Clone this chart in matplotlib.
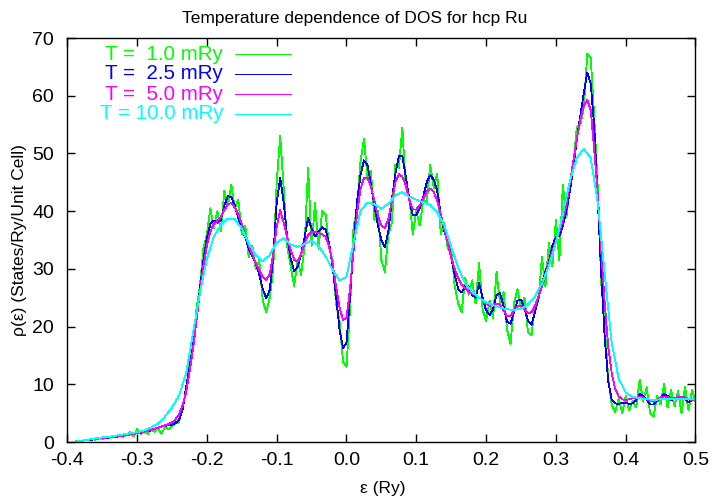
import numpy as np
import matplotlib
matplotlib.use("Agg")
import matplotlib.pyplot as plt

plt.rcParams['font.family'] = ['Liberation Sans', 'DejaVu Sans']
plt.rcParams['font.size'] = 12.5
plt.rcParams['axes.unicode_minus'] = False

# energy grid (Ry): fine grid for T=1.0/2.5/5.0, coarse for T=10.0
e_fine = np.linspace(-0.39, 0.5, 179)
e_coarse = np.linspace(-0.39, 0.5, 90)

dos_1_0 = [
    0.0, 0.2, 0.1, 0.4, 0.3, 0.6, 0.4, 0.7, 0.5, 0.9,
    0.6, 1.0, 0.8, 1.3, 0.9, 1.2, 1.7, 1.0, 2.2, 1.4,
    1.9, 1.4, 2.2, 1.8, 2.5, 1.4, 2.6, 2.2, 2.8, 3.2,
    3.4, 6.0, 8.5, 14.0, 16.0, 23.0, 27.0, 33.5, 36.0, 40.5,
    37.0, 40.0, 36.5, 43.5, 41.0, 44.5, 40.5, 42.0, 36.0, 37.5,
    32.0, 34.0, 30.0, 31.5, 24.5, 22.5, 25.0, 30.0, 45.0, 53.0,
    44.0, 34.0, 30.5, 27.0, 31.5, 29.0, 34.0, 47.5, 34.0, 41.5,
    33.5, 40.0, 39.5, 34.0, 31.5, 24.0, 21.0, 14.0, 13.0, 23.0,
    37.0, 40.5, 48.5, 52.5, 46.0, 47.0, 38.5, 40.0, 31.5, 29.5,
    36.0, 38.0, 48.0, 47.5, 54.5, 44.0, 42.5, 36.0, 40.0, 37.5,
    42.0, 41.5, 48.0, 44.0, 46.5, 36.0, 38.0, 33.5, 34.0, 27.0,
    24.0, 22.5, 28.5, 25.5, 28.0, 24.0, 31.0, 23.0, 21.0, 24.5,
    21.5, 29.5, 24.0, 26.0, 19.5, 17.0, 24.0, 26.5, 23.0, 25.0,
    19.0, 18.5, 23.5, 24.5, 32.0, 27.0, 34.5, 30.5, 38.5, 31.5,
    44.5, 39.0, 44.0, 48.0, 54.5, 55.0, 58.0, 67.3, 66.5, 56.0,
    44.0, 27.5, 20.0, 11.0, 6.5, 5.2, 7.5, 5.0, 8.0, 5.5,
    7.2, 6.0, 10.8, 7.0, 9.5, 5.0, 4.5, 8.0, 6.5, 10.0,
    6.0, 9.0, 6.2, 8.8, 5.0, 9.5, 5.5, 9.0, 7.0,
]

dos_2_5 = [
    0.0, 0.1, 0.2, 0.3, 0.4, 0.4, 0.5, 0.6, 0.6, 0.7,
    0.8, 0.9, 0.9, 1.0, 1.1, 1.2, 1.3, 1.4, 1.5, 1.6,
    1.8, 1.9, 2.0, 2.3, 2.5, 2.7, 2.8, 2.9, 3.0, 3.3,
    3.8, 5.5, 9.3, 13.0, 16.5, 21.5, 26.5, 31.5, 35.4, 37.8,
    38.4, 38.0, 38.5, 41.0, 42.6, 42.4, 41.0, 38.8, 37.0, 35.5,
    33.5, 32.2, 31.0, 29.0, 26.5, 24.9, 26.3, 32.0, 41.5, 45.8,
    41.5, 35.5, 31.8, 29.6, 30.4, 32.5, 35.5, 38.8, 37.0, 35.6,
    36.4, 37.2, 36.8, 34.5, 30.5, 25.3, 19.5, 16.3, 17.2, 25.0,
    34.0, 41.5, 46.2, 48.8, 48.0, 44.7, 41.0, 37.5, 35.0, 33.8,
    36.5, 42.0, 46.5, 49.5, 49.5, 46.0, 42.0, 39.3, 39.3, 40.5,
    42.5, 45.0, 46.2, 45.5, 43.5, 39.5, 36.5, 34.8, 32.0, 29.0,
    26.5, 25.9, 27.0, 27.0, 25.5, 25.0, 27.5, 25.0, 22.8, 22.0,
    23.0, 25.5, 25.8, 23.5, 20.8, 20.5, 22.5, 24.5, 24.7, 23.2,
    21.0, 20.3, 22.5, 25.0, 27.5, 29.5, 31.2, 34.0, 35.5, 35.7,
    37.5, 40.0, 43.5, 47.5, 52.5, 56.5, 60.5, 64.0, 62.0, 54.5,
    42.0, 29.0, 18.0, 10.5, 7.3, 6.7, 6.6, 6.8, 6.8, 6.6,
    6.7, 7.2, 8.3, 8.0, 7.4, 6.5, 6.5, 7.1, 7.8, 8.3,
    8.0, 7.3, 7.4, 7.9, 7.8, 7.5, 6.9, 7.3, 7.5,
]

dos_5_0 = [
    0.0, 0.1, 0.2, 0.3, 0.4, 0.45, 0.5, 0.6, 0.7, 0.75,
    0.8, 0.9, 1.0, 1.05, 1.1, 1.2, 1.3, 1.4, 1.5, 1.65,
    1.8, 1.95, 2.1, 2.3, 2.5, 2.7, 2.9, 3.1, 3.4, 3.9,
    4.8, 6.3, 8.5, 12.0, 16.0, 21.0, 26.0, 30.5, 34.0, 36.5,
    37.8, 38.3, 39.0, 40.2, 41.2, 41.4, 40.6, 39.5, 37.8, 35.8,
    34.0, 32.5, 31.0, 29.8, 28.6, 28.1, 29.0, 32.5, 37.3, 40.2,
    38.0, 35.5, 33.3, 31.6, 31.3, 32.6, 34.5, 35.8, 36.4, 36.4,
    36.2, 36.0, 35.6, 33.9, 31.0, 27.0, 23.3, 21.2, 21.5, 26.5,
    33.0, 39.5, 43.8, 45.7, 45.8, 44.2, 41.8, 39.2, 37.5, 37.1,
    38.6, 41.8, 45.0, 46.4, 46.0, 44.5, 41.9, 40.3, 40.3, 41.0,
    42.1, 43.4, 43.9, 43.3, 41.8, 39.5, 37.0, 34.5, 32.0, 30.0,
    28.4, 27.2, 26.6, 26.1, 25.8, 25.4, 25.0, 24.5, 23.9, 23.6,
    23.8, 24.0, 23.8, 22.8, 21.8, 21.9, 22.7, 23.5, 23.6, 23.0,
    22.3, 22.5, 23.6, 25.2, 27.0, 28.8, 31.0, 33.0, 34.8, 36.5,
    38.5, 41.0, 44.8, 48.5, 52.5, 55.8, 58.3, 59.3, 57.5, 50.5,
    43.0, 33.0, 24.0, 16.5, 11.9, 9.2, 7.9, 7.4, 7.3, 7.4,
    7.6, 7.7, 7.8, 7.7, 7.4, 7.1, 7.0, 7.3, 7.7, 7.9,
    7.8, 7.6, 7.6, 7.8, 7.9, 7.7, 7.4, 7.3, 7.4,
]

dos_10_0 = [
    0.0, 0.2, 0.4, 0.6, 0.8, 0.9, 1.1, 1.3, 1.5, 1.7,
    2.0, 2.5, 3.2, 4.4, 6.0, 8.0, 11.8, 18.8, 25.8, 31.8,
    35.6, 37.6, 38.7, 38.6, 37.0, 34.4, 32.4, 31.3, 32.4, 34.6,
    35.3, 34.2, 33.8, 34.3, 34.9, 34.0, 32.2, 29.8, 28.0, 28.6,
    34.5, 40.0, 41.5, 41.2, 40.4, 41.3, 42.7, 43.3, 42.5, 42.0,
    41.5, 41.1, 39.8, 37.6, 33.8, 30.2, 27.5, 26.0, 25.0, 24.2,
    23.7, 23.3, 23.0, 22.9, 23.1, 23.8, 25.2, 27.5, 30.5, 34.5,
    39.5, 45.2, 49.2, 50.8, 49.2, 41.5, 29.0, 17.1, 11.0, 8.6,
    7.8, 7.6, 7.4, 7.3, 7.4, 7.4, 7.4, 7.4, 7.4, 7.4,
]

labels = ["T =  1.0 mRy", "T =  2.5 mRy", "T =  5.0 mRy", "T = 10.0 mRy"]
colors = ["#00ff00", "#0000ff", "#ff00ff", "#00ffff"]

x_ticks = [-0.4, -0.3, -0.2, -0.1, 0.0, 0.1, 0.2, 0.3, 0.4, 0.5]
x_ticklabels = ["-0.4", "-0.3", "-0.2", "-0.1", "0.0", "0.1", "0.2", "0.3", "0.4", "0.5"]
y_ticks = [0, 10, 20, 30, 40, 50, 60, 70]

fig = plt.figure(figsize=(7.19, 5.04), dpi=100)
ax = fig.add_axes([0.0936, 0.123, 0.8737, 0.8016])

series = [(e_fine, dos_1_0), (e_fine, dos_2_5), (e_fine, dos_5_0), (e_coarse, dos_10_0)]
for (x, y), c in zip(series, colors):
    ax.plot(x, y, color=c, lw=0.6, antialiased=False)

# gnuplot-style key: right-aligned text, sample line to the right
key_y = [0.960, 0.911, 0.861, 0.812]
for lab, c, ky in zip(labels, colors, key_y):
    ax.text(0.248, ky, lab, color=c, ha='right', va='center', transform=ax.transAxes,
            fontsize=14.8)
    ax.plot([0.267, 0.356], [ky, ky], color=c, lw=0.6, transform=ax.transAxes,
            antialiased=False)

ax.set_xlim(-0.4, 0.5)
ax.set_ylim(0, 70)
ax.set_xticks(x_ticks)
ax.set_xticklabels(x_ticklabels)
ax.set_yticks(y_ticks)
ax.tick_params(direction='in', length=6, width=1, top=True, right=True, labelsize=14)
ax.tick_params(axis='x', pad=7)
ax.tick_params(axis='y', pad=9.5)
for s in ax.spines.values():
    s.set_linewidth(1)

fig.text(0.494, 0.964, "Temperature dependence of DOS for hcp Ru", ha='center', va='center')
fig.text(0.533, 0.030, "ε (Ry)", ha='center', va='center')
fig.text(0.027, 0.524, "ρ(ε) (States/Ry/Unit Cell)", ha='center', va='center', rotation=90)

fig.savefig("out.png", dpi=100)
